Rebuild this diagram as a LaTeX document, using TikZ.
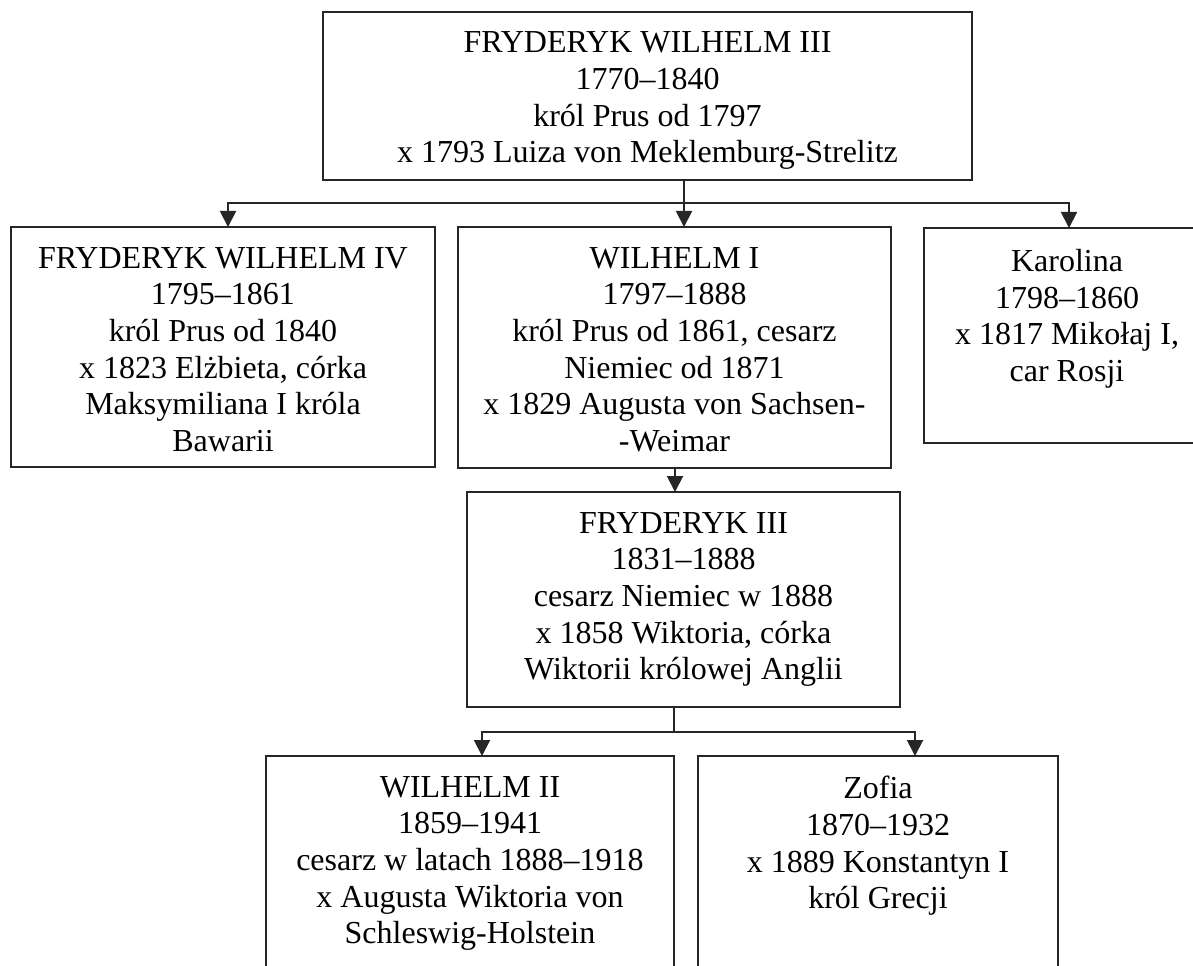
\documentclass[tikz,border=0pt]{standalone}
\usepackage{fontspec}
\setmainfont{Liberation Serif}
\usetikzlibrary{fit,arrows.meta,calc}
\tikzset{
  box/.style={draw=black!85, line width=1.5pt, inner sep=0pt, outer sep=0pt, rectangle},
  txt/.style={align=center, inner sep=0pt, anchor=north, font=\fontsize{24pt}{27.5pt}\selectfont},
  conn/.style={draw=black!85, line width=1.5pt},
  arr/.style={conn, -{Triangle[width=12pt,length=12pt]}}
}
\begin{document}
\begin{tikzpicture}[x=0.75pt,y=-0.75pt]
\useasboundingbox (0,0) rectangle (1193,966);
\clip (0,0) rectangle (1193,966);
\fill[white] (0,0) rectangle (1193,966);
% boxes
\node[box, fit={(323,11.7) (972,180)}] (top) {};
\node[box, fit={(11,227) (435,467)}] (fw4) {};
\node[box, fit={(458,227) (891,468)}] (w1) {};
\node[box, fit={(924,228) (1210,443)}] (kar) {};
\node[box, fit={(467,492) (900,707)}] (f3) {};
\node[box, fit={(266,756) (674,1010)}] (w2) {};
\node[box, fit={(698,756) (1058,1010)}] (zof) {};
% texts
\node[txt] (ttop) at ($(top.north)+(0,20)$) {FRYDERYK WILHELM III\\1770–1840\\król Prus od 1797\\x 1793 Luiza von Meklemburg-Strelitz};
\node[txt] (tfw4) at ($(fw4.north)+(0,20)$) {FRYDERYK WILHELM IV\\1795–1861\\król Prus od 1840\\x 1823 Elżbieta, córka\\Maksymiliana I króla\\Bawarii};
\node[txt] (tw1) at ($(w1.north)+(0,20)$) {WILHELM I\\1797–1888\\król Prus od 1861, cesarz\\Niemiec od 1871\\x 1829 Augusta von Sachsen-\\-Weimar};
\node[txt] (tkar) at ($(kar.north)+(0,21)$) {Karolina\\1798–1860\\x 1817 Mikołaj I,\\car Rosji};
\node[txt] (tf3) at ($(f3.north)+(0,20)$) {FRYDERYK III\\1831–1888\\cesarz Niemiec w 1888\\x 1858 Wiktoria, córka\\Wiktorii królowej Anglii};
\node[txt] (tw2) at ($(w2.north)+(0,20)$) {WILHELM II\\1859–1941\\cesarz w latach 1888–1918\\x Augusta Wiktoria von\\Schleswig-Holstein};
\node[txt] (tzof) at ($(zof.north)+(0,20)$) {Zofia\\1870–1932\\x 1889 Konstantyn I\\król Grecji};
% connectors
\coordinate (a1) at (228,203.5);
\coordinate (a2) at (684,203.5);
\coordinate (a3) at (1069,203.5);
\draw[arr] (top.south -| a2) -- (a2 |- w1.north);
\draw[arr] (a2) -| (a1 |- fw4.north);
\draw[arr] (a2) -| (a3 |- kar.north);
\coordinate (a4) at (675,480);
\draw[arr] (w1.south -| a4) -- (f3.north -| a4);
\coordinate (b0) at (674,732);
\coordinate (b1) at (482,732);
\coordinate (b2) at (915,732);
\draw[conn] (f3.south -| b0) -- (b0);
\draw[arr] (b0) -| (b1 |- w2.north);
\draw[arr] (b0) -| (b2 |- zof.north);
\end{tikzpicture}
\end{document}
